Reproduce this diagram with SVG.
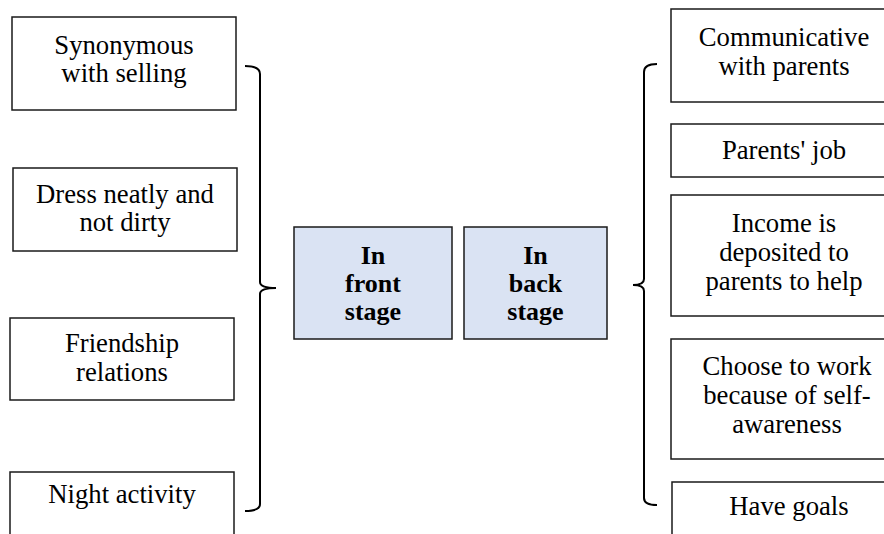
<svg xmlns="http://www.w3.org/2000/svg" width="884" height="534" viewBox="0 0 884 534">
<style>
.box{fill:#ffffff;stroke:#1a1a1a;stroke-width:1.5}
.core{fill:#dae3f3;stroke:#1a1a1a;stroke-width:1.5}
text{font-family:"Liberation Serif","Times New Roman",serif;font-size:26.7px;fill:#000;text-anchor:middle}
.b{font-weight:bold;font-size:26px}
.br{fill:none;stroke:#000;stroke-width:2}
</style>
<rect width="884" height="534" fill="#fff"/>
<g id="connectors">
<path class="br" d="M245,66 Q260,66 260,74 L260,282 Q260,288 276,288 Q260,288 260,294 L260,504 Q260,511 245,511"/>
<path class="br" d="M657,64 Q644,64 644,72 L644,279 Q644,285 633,285 Q644,285 644,291 L644,498 Q644,505 657,505"/>
</g>
<g id="n-synonymous"><rect class="box" x="12" y="17" width="224" height="93"/><text x="124" y="54">Synonymous</text><text x="124" y="82">with selling</text></g>
<g id="n-dress"><rect class="box" x="13" y="168" width="224" height="83"/><text x="125" y="203">Dress neatly and</text><text x="125" y="231">not dirty</text></g>
<g id="n-friendship"><rect class="box" x="10" y="318" width="224" height="82"/><text x="122" y="352">Friendship</text><text x="122" y="381">relations</text></g>
<g id="n-night"><rect class="box" x="10" y="472" width="224" height="70"/><text x="122" y="503">Night activity</text></g>
<g id="n-front"><rect class="core" x="294" y="227" width="158" height="112"/><text class="b" x="373" y="264">In</text><text class="b" x="373" y="292">front</text><text class="b" x="373" y="320">stage</text></g>
<g id="n-back"><rect class="core" x="464" y="227" width="143" height="112"/><text class="b" x="535.5" y="264">In</text><text class="b" x="535.5" y="292">back</text><text class="b" x="535.5" y="320">stage</text></g>
<g id="n-communicative"><rect class="box" x="671" y="9" width="230" height="93"/><text x="784" y="46">Communicative</text><text x="784" y="75">with parents</text></g>
<g id="n-job"><rect class="box" x="671" y="124" width="230" height="53"/><text x="784" y="159">Parents' job</text></g>
<g id="n-income"><rect class="box" x="671" y="195" width="230" height="121"/><text x="784" y="232">Income is</text><text x="784" y="261">deposited to</text><text x="784" y="290">parents to help</text></g>
<g id="n-choose"><rect class="box" x="671" y="339" width="230" height="120"/><text x="787" y="375">Choose to work</text><text x="787" y="404">because of self-</text><text x="787" y="433">awareness</text></g>
<g id="n-goals"><rect class="box" x="672" y="482" width="230" height="60"/><text x="789" y="515">Have goals</text></g>
</svg>
